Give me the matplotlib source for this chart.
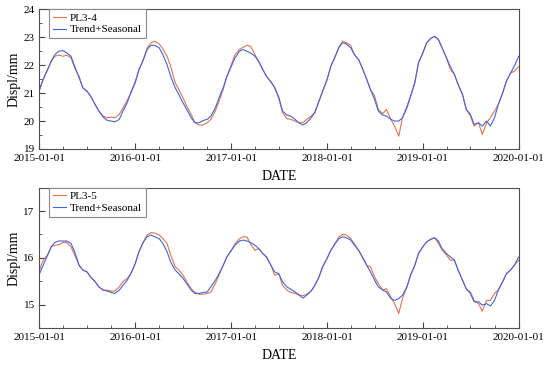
import numpy as np
import pandas as pd
import matplotlib
matplotlib.use('Agg')
import matplotlib.pyplot as plt
import matplotlib.dates as mdates
from matplotlib.ticker import MultipleLocator

plt.rcParams['font.family'] = ['Liberation Serif', 'DejaVu Serif']

# sample dates: 1st and 15th of each month, 2015-01-01 .. 2020-01-01
dates = []
for yr in range(2015, 2020):
    for mo in range(1, 13):
        dates.append(pd.Timestamp(yr, mo, 1))
        dates.append(pd.Timestamp(yr, mo, 15))
dates.append(pd.Timestamp(2020, 1, 1))

# PL3-4 (top panel)
pl34 = [21.10, 21.50, 21.85, 22.15, 22.32, 22.36, 22.32, 22.36, 22.26, 21.90, 21.60, 21.19,
        21.07, 20.89, 20.59, 20.36, 20.18, 20.12, 20.14, 20.12, 20.24, 20.47, 20.74, 21.01,
        21.43, 21.84, 22.20, 22.62, 22.80, 22.86, 22.76, 22.59, 22.32, 21.96, 21.37, 21.13,
        20.83, 20.53, 20.24, 19.94, 19.86, 19.86, 19.94, 20.06, 20.36, 20.71, 21.13, 21.60,
        22.02, 22.38, 22.56, 22.64, 22.71, 22.68, 22.38, 22.14, 21.84, 21.60, 21.40, 21.20,
        20.80, 20.30, 20.09, 20.06, 20.00, 19.94, 19.94, 20.06, 20.18, 20.30, 20.71, 21.07,
        21.49, 21.96, 22.32, 22.64, 22.86, 22.80, 22.71, 22.38, 22.20, 21.90, 21.49, 21.13,
        20.89, 20.42, 20.26, 20.42, 20.06, 19.82, 19.46, 20.12, 20.53, 20.89, 21.37, 22.08,
        22.44, 22.80, 22.97, 23.03, 22.92, 22.62, 22.26, 21.85, 21.67, 21.31, 20.95, 20.42,
        20.18, 19.82, 19.94, 19.52, 19.94, 20.12, 20.36, 20.59, 21.01, 21.43, 21.72, 21.78,
        21.95]
trend34 = [21.13, 21.49, 21.84, 22.14, 22.38, 22.50, 22.52, 22.44, 22.32, 21.96, 21.55, 21.19,
           21.07, 20.89, 20.59, 20.36, 20.14, 20.03, 20.00, 19.97, 20.06, 20.36, 20.65, 21.01,
           21.37, 21.84, 22.20, 22.56, 22.71, 22.71, 22.62, 22.38, 22.02, 21.60, 21.19, 20.95,
           20.65, 20.42, 20.12, 19.94, 19.94, 20.02, 20.06, 20.18, 20.47, 20.83, 21.19, 21.60,
           21.96, 22.26, 22.50, 22.56, 22.50, 22.44, 22.32, 22.14, 21.84, 21.60, 21.40, 21.20,
           20.85, 20.36, 20.21, 20.18, 20.06, 19.94, 19.86, 19.94, 20.12, 20.30, 20.71, 21.07,
           21.49, 21.96, 22.32, 22.64, 22.80, 22.76, 22.62, 22.38, 22.20, 21.90, 21.49, 21.13,
           20.77, 20.36, 20.21, 20.18, 20.06, 20.00, 20.00, 20.12, 20.47, 20.89, 21.37, 22.08,
           22.44, 22.80, 22.97, 23.03, 22.92, 22.62, 22.26, 21.96, 21.67, 21.31, 20.95, 20.42,
           20.24, 19.88, 19.94, 19.82, 20.00, 19.82, 20.12, 20.59, 21.01, 21.43, 21.72, 21.96,
           22.32]

# PL3-5 (bottom panel)
pl35 = [15.74, 15.95, 16.06, 16.24, 16.27, 16.28, 16.33, 16.33, 16.24, 16.06, 15.84, 15.74,
        15.70, 15.59, 15.49, 15.38, 15.31, 15.31, 15.29, 15.29, 15.38, 15.49, 15.56, 15.66,
        15.88, 16.13, 16.34, 16.49, 16.54, 16.53, 16.49, 16.41, 16.31, 16.06, 15.81, 15.74,
        15.63, 15.49, 15.34, 15.26, 15.22, 15.22, 15.24, 15.27, 15.45, 15.63, 15.84, 16.02,
        16.16, 16.30, 16.41, 16.45, 16.45, 16.30, 16.16, 16.20, 16.09, 16.02, 15.84, 15.63,
        15.66, 15.41, 15.31, 15.26, 15.24, 15.21, 15.19, 15.22, 15.29, 15.41, 15.59, 15.81,
        15.99, 16.16, 16.31, 16.45, 16.50, 16.49, 16.41, 16.30, 16.16, 16.02, 15.84, 15.81,
        15.59, 15.45, 15.31, 15.34, 15.16, 15.02, 14.81, 15.13, 15.38, 15.63, 15.84, 16.09,
        16.24, 16.34, 16.40, 16.43, 16.31, 16.17, 16.06, 15.95, 15.95, 15.74, 15.52, 15.34,
        15.27, 15.09, 15.02, 14.86, 15.09, 15.09, 15.24, 15.31, 15.49, 15.66, 15.74, 15.84,
        15.95]
trend35 = [15.66, 15.84, 16.06, 16.24, 16.33, 16.36, 16.36, 16.36, 16.31, 16.13, 15.84, 15.74,
           15.70, 15.59, 15.49, 15.38, 15.31, 15.29, 15.26, 15.24, 15.31, 15.41, 15.52, 15.66,
           15.88, 16.13, 16.34, 16.45, 16.49, 16.45, 16.41, 16.31, 16.13, 15.91, 15.74, 15.66,
           15.56, 15.45, 15.31, 15.24, 15.24, 15.26, 15.27, 15.38, 15.52, 15.66, 15.84, 16.02,
           16.16, 16.27, 16.36, 16.38, 16.36, 16.33, 16.27, 16.20, 16.09, 16.02, 15.84, 15.70,
           15.66, 15.49, 15.38, 15.33, 15.27, 15.21, 15.14, 15.20, 15.29, 15.41, 15.59, 15.81,
           15.99, 16.16, 16.31, 16.41, 16.45, 16.43, 16.38, 16.27, 16.16, 16.02, 15.84, 15.70,
           15.52, 15.38, 15.31, 15.27, 15.13, 15.09, 15.13, 15.20, 15.38, 15.63, 15.84, 16.09,
           16.24, 16.34, 16.40, 16.43, 16.36, 16.20, 16.09, 16.02, 15.95, 15.74, 15.52, 15.34,
           15.24, 15.06, 15.06, 14.99, 15.02, 14.97, 15.09, 15.31, 15.49, 15.66, 15.74, 15.84,
           16.02]

panels = [
    (pl34, trend34, 'PL3-4', (19, 24), [19, 20, 21, 22, 23, 24]),
    (pl35, trend35, 'PL3-5', (14.5, 17.5), [15, 16, 17]),
]

c_obs = '#dc7650'
c_fit = '#4564dc'

fig = plt.figure(figsize=(5.5, 3.66), dpi=100)
boxes = [[0.0718, 0.5929, 0.8713, 0.3817], [0.0718, 0.1038, 0.8713, 0.3834]]

for (obs, fit, name, ylim, yt), box in zip(panels, boxes):
    ax = fig.add_axes(box)
    ax.plot(dates, obs, color=c_obs, lw=0.8, label=name)
    ax.plot(dates, fit, color=c_fit, lw=0.8, label='Trend+Seasonal')
    ax.set_xlim(pd.Timestamp(2015, 1, 1), pd.Timestamp(2020, 1, 1))
    ax.set_ylim(*ylim)
    ax.set_yticks(yt)
    ax.yaxis.set_minor_locator(MultipleLocator(0.5))
    ax.xaxis.set_major_locator(mdates.YearLocator())
    ax.xaxis.set_minor_locator(mdates.MonthLocator(bymonth=[4, 7, 10]))
    ax.xaxis.set_major_formatter(mdates.DateFormatter('%Y-%m-%d'))
    ax.tick_params(which='both', direction='in', labelsize=8, colors='#444444', labelcolor='black')
    ax.tick_params(which='major', length=4)
    ax.tick_params(which='minor', length=2)
    for sp in ax.spines.values():
        sp.set_color('#505050')
        sp.set_linewidth(0.8)
    ax.set_xlabel('DATE', fontsize=10, labelpad=5)
    ax.set_ylabel('Displ/mm', fontsize=10, labelpad=2)
    leg = ax.legend(loc='upper left', bbox_to_anchor=(0.02, 1.0), borderaxespad=0,
                    fontsize=8, fancybox=False, handlelength=1.2, handletextpad=0.3,
                    borderpad=0.35, labelspacing=0.15, framealpha=1)
    leg.get_frame().set_edgecolor('#888888')
    leg.get_frame().set_linewidth(0.8)

fig.savefig('out.png', dpi=100)
